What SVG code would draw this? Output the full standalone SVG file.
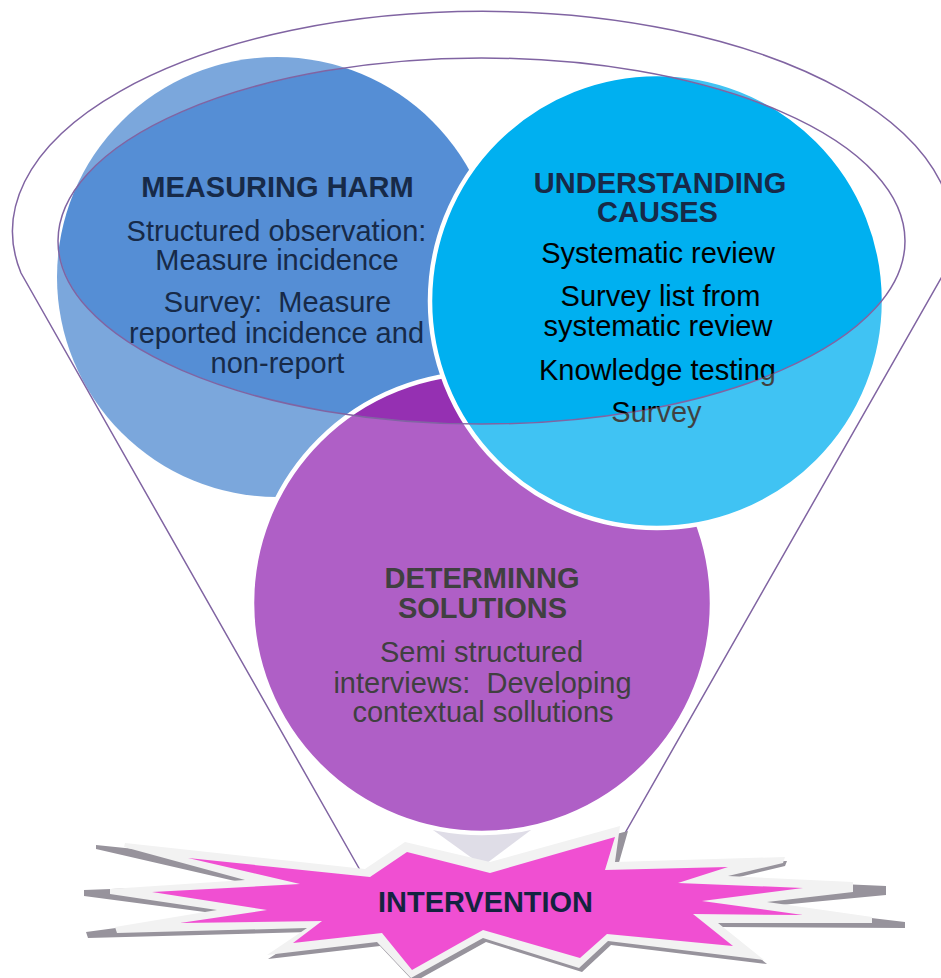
<svg xmlns="http://www.w3.org/2000/svg" width="941" height="978" viewBox="0 0 941 978">
<defs>
<style>
.t{font-family:"Liberation Sans",Arial,sans-serif;font-size:29px;text-anchor:middle;white-space:pre}
.b{font-weight:bold}
.navy{fill:#172A48}
.grey{fill:#404040}
.line{fill:none;stroke:#8064A2;stroke-width:1.5}
.ring{stroke:#FFFFFF;stroke-width:4.5}
</style>
<radialGradient id="gBlue" gradientUnits="userSpaceOnUse" cx="0" cy="0" r="1" gradientTransform="translate(481.5 241) scale(423.5 183)">
<stop offset="0.997" stop-color="#558ED5"/><stop offset="1" stop-color="#7BA7DC"/>
</radialGradient>
<radialGradient id="gCyan" gradientUnits="userSpaceOnUse" cx="0" cy="0" r="1" gradientTransform="translate(481.5 241) scale(423.5 183)">
<stop offset="0.997" stop-color="#00B0F0"/><stop offset="1" stop-color="#40C3F3"/>
</radialGradient>
<radialGradient id="gPurple" gradientUnits="userSpaceOnUse" cx="0" cy="0" r="1" gradientTransform="translate(481.5 241) scale(423.5 183)">
<stop offset="0.997" stop-color="#9530B2"/><stop offset="1" stop-color="#AF5FC6"/>
</radialGradient>
<radialGradient id="gText" gradientUnits="userSpaceOnUse" cx="0" cy="0" r="1" gradientTransform="translate(481.5 241) scale(423.5 183)">
<stop offset="0.997" stop-color="#000000"/><stop offset="1" stop-color="#404040"/>
</radialGradient>
</defs>
<rect width="941" height="978" fill="#FFFFFF"/>

<polygon id="funnel-tip" points="433,830 531,830 483,866" fill="#DFDDE7"/>

<g id="measuring-harm">
<circle cx="277" cy="277" r="220" fill="url(#gBlue)"/>
</g>
<g id="determining-solutions">
<circle class="ring" cx="482" cy="603" r="230" fill="url(#gPurple)"/>
</g>
<g id="understanding-causes">
<circle class="ring" cx="657" cy="301" r="227" fill="url(#gCyan)"/>
</g>

<g id="funnel">
<ellipse class="line" cx="481.5" cy="241" rx="423.5" ry="183"/>
<path class="line" d="M360,870 L21,273 A470,220 0 1 1 944,273 L604,870"/>
</g>

<g id="intervention">
<polygon fill="#97939C" points="408,846 493,866 628,831 618,866 787,861 785,866 731,879 886,886 886,895 770,906 905,922 905,928 721,927 767,964 611,945 582,972 486,942 414,982 380,946 268,959 310,932 88,938 86,932 220,914 84,896 84,890 248,884 96,849 96,845 368,873"/>
<polygon fill="#F2F2F2" points="405,842 490,862 620,826 615,862 785,857 783,863 728,876 853,882 853,892 767,902 872,917 872,923 718,923 764,960 608,941 579,968 483,938 411,978 377,942 267,955 307,928 117,933 115,927 217,910 110,894 110,889 245,880 124,847 125,843 365,869"/>
<polygon fill="#F04FD2" points="407,852 490,873 615,837 605,870 728,867 678,883 803,888 702,901 803,915 693,914 733,946 607,934 580,958 483,930 412,970 382,933 293,943 322,921 180,923 267,910 152,892 300,884 188,858 370,877"/>
<text class="t b" x="485.5" y="912" font-size="27" textLength="215" lengthAdjust="spacingAndGlyphs" fill="#13233F">INTERVENTION</text>
</g>

<g id="measuring-harm-text">
<text class="t b navy" x="277.5" y="197">MEASURING HARM</text>
<text class="t navy" x="276.5" y="241">Structured observation:</text>
<text class="t navy" x="277" y="270">Measure incidence</text>
<text class="t navy" x="277.5" y="312">Survey:  Measure</text>
<text class="t navy" x="276.5" y="343">reported incidence and</text>
<text class="t navy" x="277.5" y="373">non-report</text>
</g>

<g id="understanding-causes-text">
<text class="t b navy" x="660" y="193">UNDERSTANDING</text>
<text class="t b navy" x="657.5" y="222">CAUSES</text>
<text class="t" x="658" y="263" fill="url(#gText)">Systematic review</text>
<text class="t" x="660.5" y="305.5" fill="url(#gText)">Survey list from</text>
<text class="t" x="658" y="335.5" fill="url(#gText)">systematic review</text>
<text class="t" x="657.5" y="380" fill="url(#gText)">Knowledge testing</text>
<text class="t" x="656.5" y="422" fill="url(#gText)">Survey</text>
</g>

<g id="determining-solutions-text">
<text class="t b grey" x="482" y="588">DETERMINNG</text>
<text class="t b grey" x="482.5" y="618">SOLUTIONS</text>
<text class="t grey" x="481.5" y="662">Semi structured</text>
<text class="t grey" x="482.5" y="693">interviews:  Developing</text>
<text class="t grey" x="483" y="722">contextual sollutions</text>
</g>
</svg>
